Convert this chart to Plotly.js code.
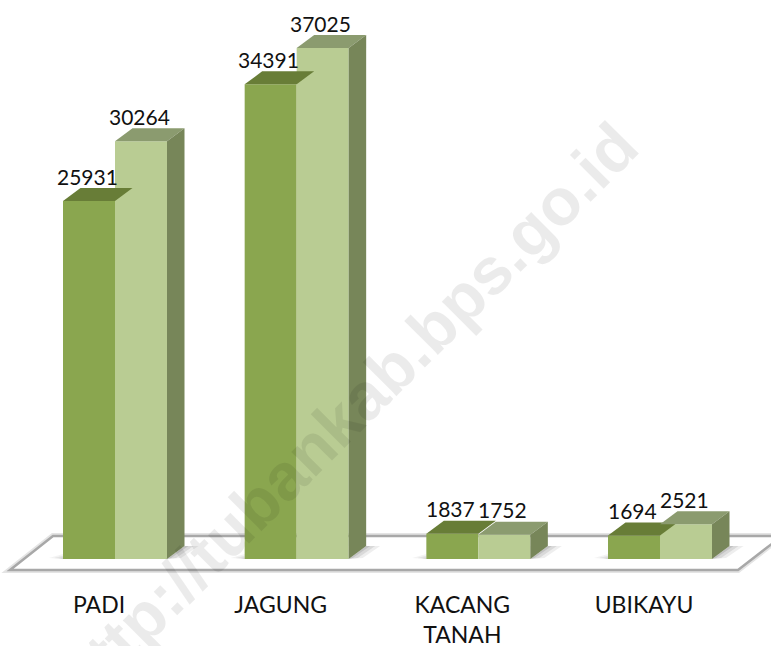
<!DOCTYPE html>
<html><head><meta charset="utf-8">
<script src="https://cdn.plot.ly/plotly-3.0.1.min.js"></script>
<style>html,body{margin:0;padding:0;background:#fff}#c{width:771px;height:646px}</style>
</head><body><div id="c"></div>
<script>
const categories = ['PADI','JAGUNG','KACANG<br>TANAH','UBIKAYU'];
const seriesA = [25931,34391,1837,1694];
const seriesB = [30264,37025,1752,2521];

const W=771,H=646,plotBottom=582,zeroPx=559,unitPerPx=37025/511;
const groupStart=115,groupStep=181.67;
const pxX=p=>(p-groupStart)/groupStep;
const dpx=p=>p/groupStep;
const barW=52/groupStep, depthX=17.5/groupStep, depthY=13*unitPerPx;
const xs=categories.map((_,i)=>i);
const xRange=[pxX(0),pxX(W)];
const yRange=[(zeroPx-plotBottom)*unitPerPx,zeroPx*unitPerPx];

const colors={A:{front:'#8aa64f',top:'#687d37'},B:{front:'#b9cc93',top:'#8b9b6f',side:'#778659'}};

function poly(x,y,fill,name){return {type:'scatter',mode:'lines',x:x.concat(x[0]),y:y.concat(y[0]),fill:'toself',fillcolor:fill,line:{width:0,color:fill},hoverinfo:'skip',showlegend:false,name};}

const traces=[];
seriesA.forEach((v,i)=>{const l=i-barW,r=i;traces.push(poly([l,r,r+depthX,l+depthX],[v,v,v+depthY,v+depthY],colors.A.top,'topA'));});
seriesB.forEach((v,i)=>{const l=i,r=i+barW;
 traces.push(poly([l,r,r+depthX,l+depthX],[v,v,v+depthY,v+depthY],colors.B.top,'topB'));
 traces.push(poly([r,r+depthX,r+depthX,r],[0,depthY,v+depthY,v],colors.B.side,'sideB'));});
traces.push({type:'bar',x:xs,y:seriesA,offset:-barW,width:barW,marker:{color:colors.A.front,line:{width:0}},showlegend:false});
traces.push({type:'bar',x:xs,y:seriesB,offset:0,width:barW,marker:{color:colors.B.front,line:{width:0}},showlegend:false});

const dataFont={family:'Lato, Carlito, sans-serif',size:21,color:'#111'};
const axisFont={family:'Lato, Carlito, sans-serif',size:23,color:'#111'};
const annotations=[{text:'http://tubankab.bps.go.id',xref:'paper',yref:'paper',x:347/W,y:1-413/plotBottom,xanchor:'center',yanchor:'middle',showarrow:false,textangle:-45,font:{family:'Liberation Sans, Arial, sans-serif',size:66,color:'rgba(0,0,0,0.08)',weight:700}}];
function lab(vals,sign){vals.forEach((v,i)=>annotations.push({x:i+sign*barW/2,y:v,xref:'x',yref:'y',text:String(v),showarrow:false,yanchor:'middle',xanchor:'center',yshift:25,xshift:-2,font:dataFont}));}
lab(seriesA,-1);lab(seriesB,1);

const yu=p=>p*unitPerPx;
const fl=[[10,570],[738,570],[782,536],[53,536]].map(p=>[pxX(p[0]),(zeroPx-p[1])*unitPerPx]);
const pathOf=pts=>'M'+pts.map(p=>p.join(',')).join('L')+'Z';
const floorPath=pathOf(fl);
const shapes=[
  {type:'path',path:floorPath,xref:'x',yref:'y',layer:'below',fillcolor:'#fff',line:{color:'#e4e4e4',width:6}},
  {type:'path',path:floorPath,xref:'x',yref:'y',layer:'below',fillcolor:'#fff',line:{color:'#a8a8a8',width:2.5}}
];
xs.forEach(i=>{
 const r=i+barW,l=i-barW;
 [[14,0.10],[9,0.14],[4,0.18]].forEach(([s,a])=>{
  shapes.push({type:'path',layer:'below',xref:'x',yref:'y',line:{width:0},fillcolor:'rgba(90,90,90,'+a+')',
   path:pathOf([[r,0],[r+depthX,depthY],[r+depthX+dpx(s),depthY],[r+dpx(s),yu(1)]])});
  shapes.push({type:'path',layer:'below',xref:'x',yref:'y',line:{width:0},fillcolor:'rgba(90,90,90,'+(a*0.7)+')',
   path:pathOf([[l,0],[l,yu(s*0.35)],[l-dpx(s),yu(1)]])});
 });
});
const layout={width:W,height:H,margin:{l:0,r:0,t:0,b:H-plotBottom,pad:0},paper_bgcolor:'#fff',plot_bgcolor:'#fff',showlegend:false,
 barmode:'overlay',
 xaxis:{range:xRange,tickvals:xs.map(i=>i-16/groupStep),ticktext:categories,ticks:'',showgrid:false,zeroline:false,showline:false,ticklabelstandoff:7,tickfont:axisFont,fixedrange:true},
 yaxis:{range:yRange,visible:false,showgrid:false,zeroline:false,fixedrange:true},
 shapes,annotations};
Plotly.newPlot('c',traces,layout,{displayModeBar:false,staticPlot:true});
</script></body></html>
